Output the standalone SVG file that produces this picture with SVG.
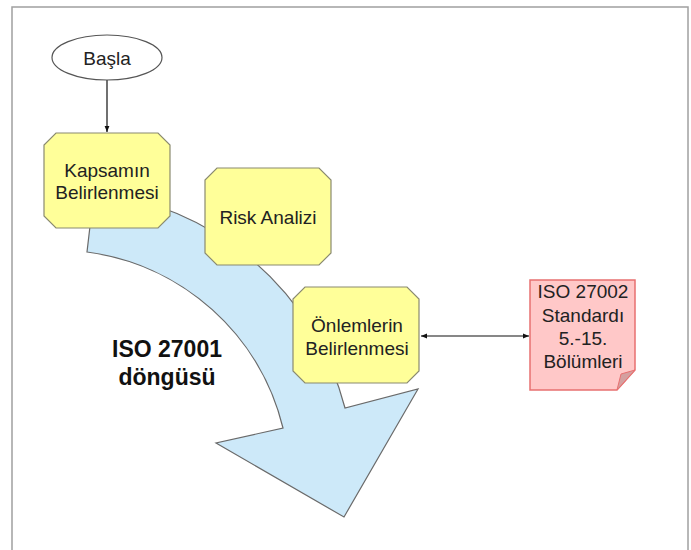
<svg xmlns="http://www.w3.org/2000/svg" width="691" height="550" viewBox="0 0 691 550">
<defs>
<style>
.lbl{font-family:"Liberation Sans",Arial,sans-serif;font-size:19px;fill:#222;text-anchor:middle}
.big{font-family:"Liberation Sans",Arial,sans-serif;font-size:23px;font-weight:bold;fill:#111;text-anchor:middle}
.oct{fill:#ffff99;stroke:#8a8a70;stroke-width:1.2}
.conn{stroke:#111;stroke-width:1.2;fill:none}
</style>
<marker id="ah" viewBox="0 0 10 10" refX="10" refY="5" markerWidth="6" markerHeight="6" orient="auto-start-reverse" markerUnits="userSpaceOnUse">
<path d="M0,1 L10,5 L0,9 Z" fill="#111"/>
</marker>
</defs>
<rect x="0" y="0" width="691" height="550" fill="#fff"/>
<rect x="12" y="7" width="676" height="560" fill="none" stroke="#a0a0a0" stroke-width="1.5"/>
<g id="cycle-arrow">
<path d="M94,192 L87,252 A233,233 0 0 1 283,428 L216,443 L344,517 L418,389 L345,408 A291,291 0 0 0 94,192 Z" fill="#cde9f9" stroke="#6a6a6a" stroke-width="1.2"/>
</g>
<g id="cycle-label">
<text class="big" x="167" y="357">ISO 27001</text>
<text class="big" x="167" y="385">döngüsü</text>
</g>
<g id="connectors">
<line class="conn" x1="107" y1="80" x2="107" y2="132" marker-end="url(#ah)"/>
<line class="conn" x1="421" y1="336" x2="529" y2="336" marker-start="url(#ah)" marker-end="url(#ah)"/>
</g>
<g id="basla">
<ellipse cx="107" cy="57.5" rx="55" ry="22.5" fill="#fff" stroke="#555" stroke-width="1.2"/>
<text class="lbl" x="107" y="65">Başla</text>
</g>
<g id="kapsamin">
<path class="oct" d="M56,133 L158,133 L170,145 L170,216 L158,228 L56,228 L44,216 L44,145 Z"/>
<text class="lbl" x="107" y="177">Kapsamın</text>
<text class="lbl" x="107" y="199">Belirlenmesi</text>
</g>
<g id="risk">
<path class="oct" d="M217,168 L319,168 L331,180 L331,253 L319,265 L217,265 L205,253 L205,180 Z"/>
<text class="lbl" x="268" y="224">Risk Analizi</text>
</g>
<g id="onlemler">
<path class="oct" d="M305,287 L407,287 L419,299 L419,371 L407,383 L305,383 L293,371 L293,299 Z"/>
<text class="lbl" x="357" y="332">Önlemlerin</text>
<text class="lbl" x="357" y="355">Belirlenmesi</text>
</g>
<g id="iso27002">
<path d="M530,280 L635,280 L635,370 L617,390 L530,390 Z" fill="#ffc8c8" stroke="#e87070" stroke-width="1.5"/>
<path d="M635,370 L617,390 L621,374 Z" fill="#d4a0a0" stroke="#e87070" stroke-width="1"/>
<text class="lbl" x="583" y="298">ISO 27002</text>
<text class="lbl" x="583" y="322">Standardı</text>
<text class="lbl" x="583" y="345">5.-15.</text>
<text class="lbl" x="583" y="368">Bölümleri</text>
</g>
</svg>
